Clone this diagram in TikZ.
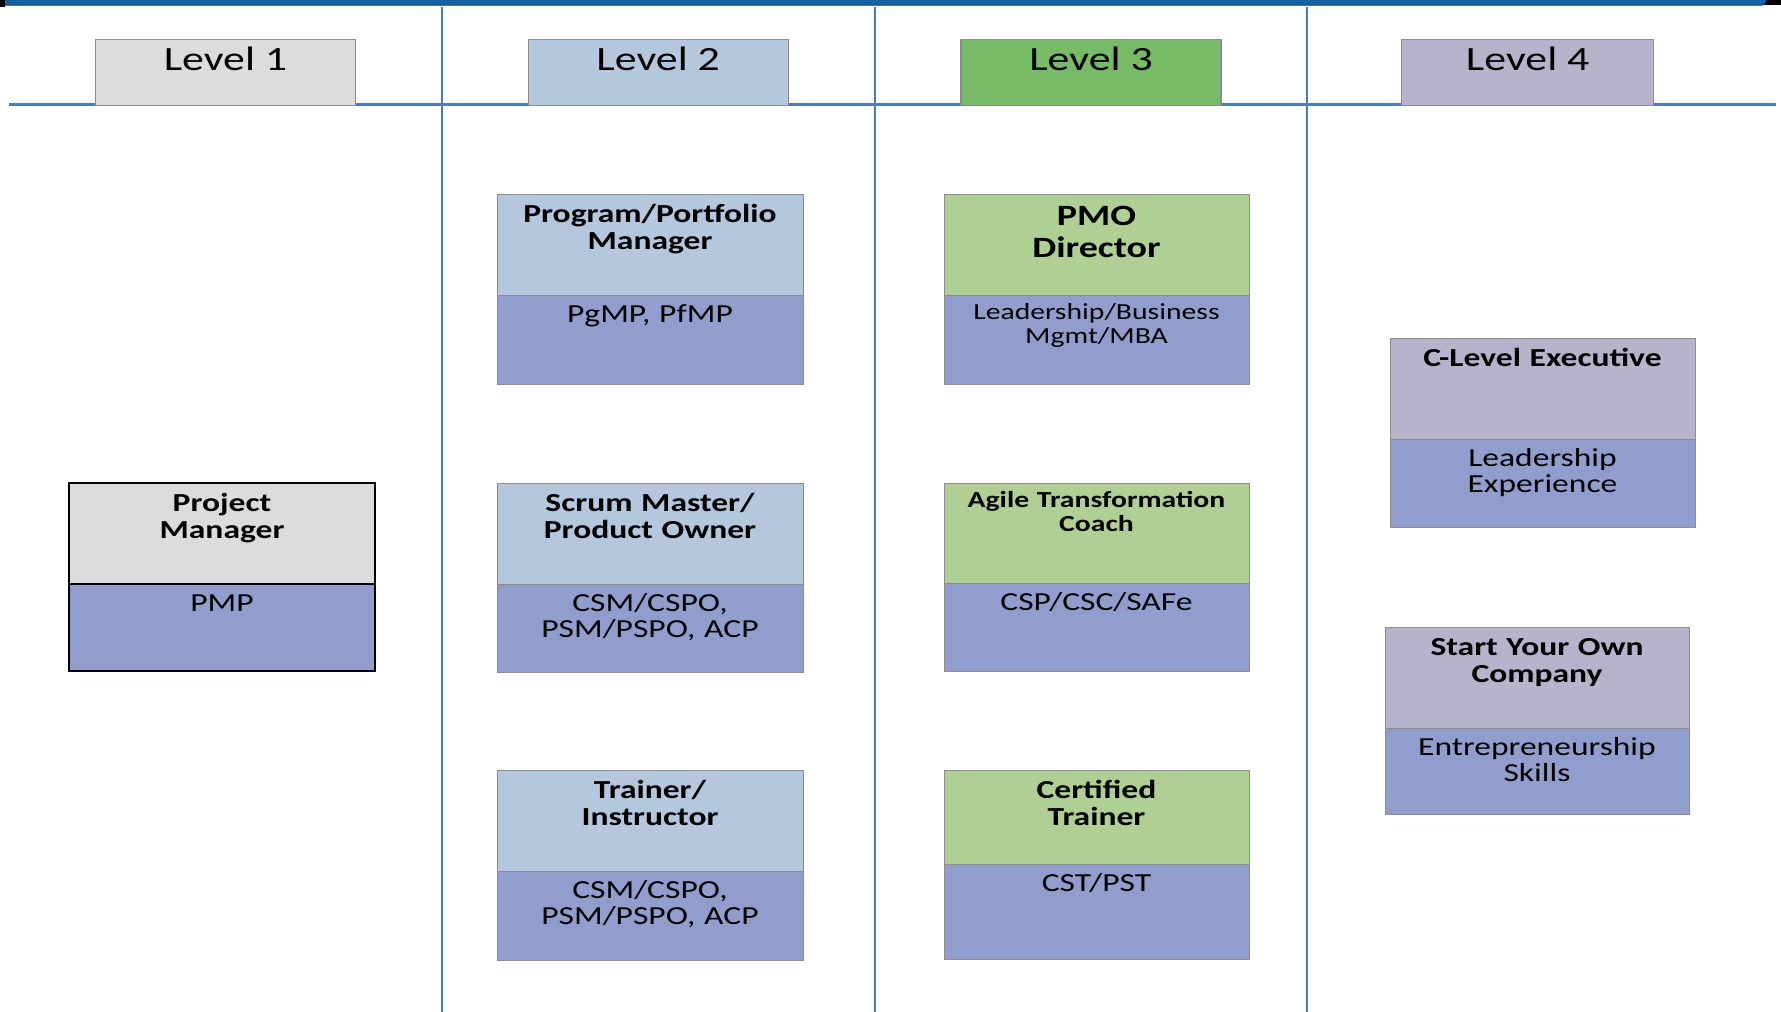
\documentclass[tikz,border=0pt]{standalone}
\usepackage{fontspec}
\setmainfont{Carlito}[FakeStretch=1.29]
\definecolor{barblue}{HTML}{1562A4}
\definecolor{barnavy}{HTML}{0B3D6B}
\definecolor{gridblue}{HTML}{4A7EBB}
\definecolor{lvgray}{HTML}{DCDCDC}
\definecolor{lvblue}{HTML}{B5C7DD}
\definecolor{lvgreen}{HTML}{78BB66}
\definecolor{lvpurple}{HTML}{B7B3CB}
\definecolor{rolegreen}{HTML}{AFCF94}
\definecolor{certblue}{HTML}{919ECD}
\definecolor{edgegray}{HTML}{8C8C8C}
\newcommand\rtitlefont{\bfseries\fontsize{26}{27}\selectfont}
\newcommand\rcertfont{\fontsize{26}{26}\selectfont}
\newcommand\rpmofont{\bfseries\fontsize{29.5}{32}\selectfont}
\newcommand\rsmalltitle{\bfseries\fontsize{23}{24}\selectfont}
\newcommand\rsmallcert{\fontsize{23}{24}\selectfont}
\tikzset{
    level box/.style={draw=edgegray, line width=1.2pt, anchor=north, inner sep=0pt,
        minimum height=66pt, text height=31.5pt, text depth=34.5pt,
        font=\fontsize{34}{36}\selectfont},
    grid line/.style={draw=gridblue, line width=2.5pt},
    role box/.pic={%
        \tikzset{/role/.cd,#1}
    \draw[pic actions] (0,0) rectangle (\rolew,\roletop);
    \draw[pic actions, fill=certblue] (0,\roletop) rectangle (\rolew,\roletop+\rolebot);
    \node[anchor=base, inner sep=0pt, text width=\rolew pt, align=center, font=\roletf]
        (-title) at (\rolew/2,\titledy) {\roletitle};
    \node[anchor=base, inner sep=0pt, text width=\rolew pt, align=center, font=\rolecf]
        (-cert) at (\rolew/2,\roletop+\certdy) {\rolecert};
},
    /role/.cd,
    width/.store in=\rolew,
    top/.store in=\roletop,
    bottom/.store in=\rolebot,
    title/.store in=\roletitle,
    cert/.store in=\rolecert,
    titlefont/.store in=\roletf,
    certfont/.store in=\rolecf,
    titleskip/.store in=\titledy,
    certskip/.store in=\certdy,
    width=306,top=101,bottom=88,titleskip=28,certskip=27,
    titlefont=\rtitlefont,certfont=\rcertfont,
}
\begin{document}
\begin{tikzpicture}[x=1pt,y=-1pt]
    \useasboundingbox (0,0) rectangle (1781,1012);
    \fill[black] (1740,0) rectangle (1781,5);
    \draw[barnavy, fill=barblue, line width=1pt, rounded corners=4pt] (-10,-10) rectangle (1766,5);
    \fill[black] (0,0) rectangle (5,7);

    \draw[grid line] (9,104.5) -- (1776,104.5);
    \foreach \x in {442,875,1307}
        \draw[grid line] (\x,7) -- (\x,1012);

    \node[level box, fill=lvgray, minimum width=260pt] (lvone) at (225.5,38.5) {Level 1};
    \node[level box, fill=lvblue, minimum width=260pt] (lvtwo) at (658.2,38.5) {Level 2};
    \node[level box, fill=lvgreen, minimum width=260pt] (lvthree) at (1091,38.5) {Level 3};
    \node[level box, fill=lvpurple, minimum width=252pt] (lvfour) at (1527.7,38.5) {Level 4};

    \pic (pm) [fill=lvgray, draw=black, line width=2pt] at (69,483)
    {role box={top=101,bottom=87,title={Project\\Manager},cert={PMP}}};

    \pic (pgm) [fill=lvblue, draw=edgegray, line width=1pt] at (497,194)
    {role box={top=101,bottom=89,title={Program/Portfolio\\Manager},cert={PgMP, PfMP}}};
    \pic (sm) [fill=lvblue, draw=edgegray, line width=1pt] at (497,483)
    {role box={top=101,bottom=88,title={Scrum Master/\\Product Owner},cert={CSM/CSPO,\\PSM/PSPO, ACP}}};
    \pic (trn) [fill=lvblue, draw=edgegray, line width=1pt] at (497,770)
    {role box={top=101,bottom=89,title={Trainer/\\Instructor},cert={CSM/CSPO,\\PSM/PSPO, ACP}}};

    \pic (pmo) [fill=rolegreen, draw=edgegray, line width=1pt] at (944,194)
    {role box={width=305,top=101,bottom=89,titlefont=\rpmofont,titleskip=31,title={PMO\\Director},
    certfont=\rsmallcert,certskip=24,cert={Leadership/Business\\Mgmt/MBA}}};
    \pic (atc) [fill=rolegreen, draw=edgegray, line width=1pt] at (944,483)
    {role box={width=305,top=100,bottom=88,titlefont=\rsmalltitle,titleskip=24,
    title={Agile Transformation\\Coach},cert={CSP/CSC/SAFe}}};
    \pic (ct) [fill=rolegreen, draw=edgegray, line width=1pt] at (944,770)
    {role box={width=305,top=94,bottom=95,title={Certified\\Trainer},cert={CST/PST}}};

    \pic (clx) [fill=lvpurple, draw=edgegray, line width=1pt] at (1390,338.5)
    {role box={width=305,top=101,bottom=88,title={C-Level Executive},cert={Leadership\\Experience}}};
    \pic (syo) [fill=lvpurple, draw=edgegray, line width=1pt] at (1385,627)
    {role box={width=304,top=101,bottom=86,title={Start Your Own\\Company},cert={Entrepreneurship\\Skills}}};
\end{tikzpicture}
\end{document}
